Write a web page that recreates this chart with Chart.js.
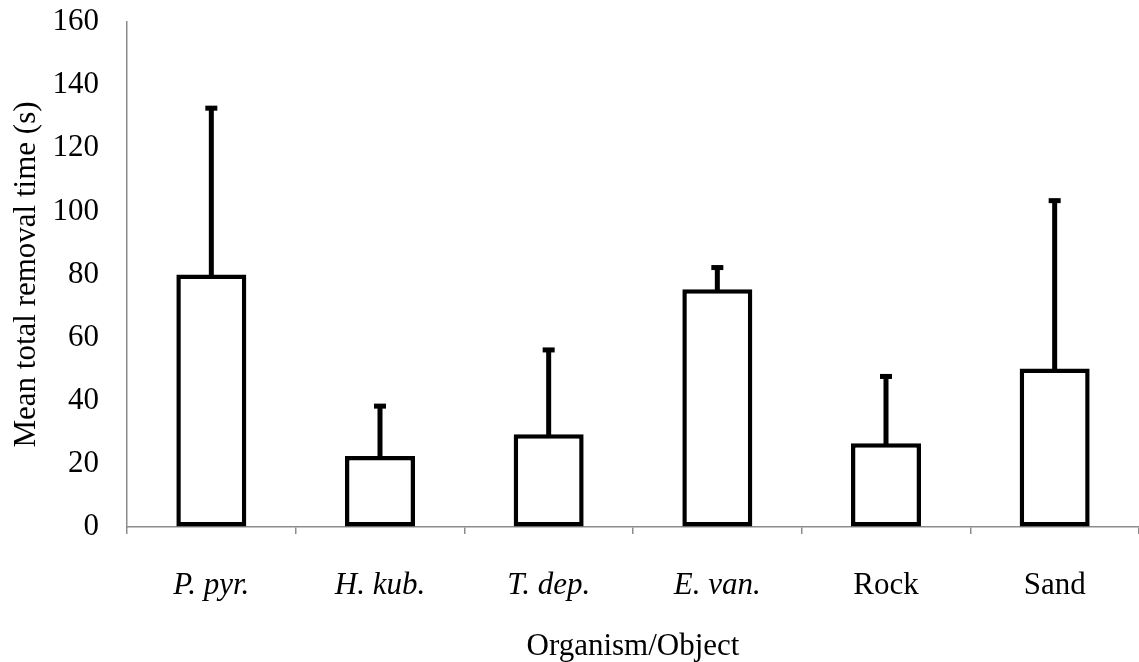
<!DOCTYPE html>
<html>
<head>
<meta charset="utf-8">
<script src="https://cdn.jsdelivr.net/npm/chart.js@4.4.1/dist/chart.umd.min.js"></script>
<style>
  html, body { margin: 0; padding: 0; background: #ffffff; }
  #wrap { width: 1139px; height: 662px; }
</style>
</head>
<body>
<div id="wrap"><canvas id="c" width="1139" height="662" style="width:1139px;height:662px;"></canvas></div>
<script>
const categories = ["P. pyr.", "H. kub.", "T. dep.", "E. van.", "Rock", "Sand"];
const italicCats = [true, true, true, true, false, false];
const meanTimes = [80, 22.5, 29.4, 75.3, 26.5, 50.2];
const errorUp = [52.7, 15.8, 26.7, 6.9, 21.2, 53.2];
const yTicks = [0, 20, 40, 60, 80, 100, 120, 140, 160];

const FONT = "'Liberation Serif', 'Times New Roman', serif";
const AXIS_GRAY = '#8c8c8c';

const errorBarPlugin = {
  id: 'errorBars',
  afterDatasetsDraw(chart) {
    const ctx = chart.ctx;
    const meta = chart.getDatasetMeta(0);
    const yScale = chart.scales.y;
    ctx.save();
    ctx.fillStyle = '#000';
    meta.data.forEach((bar, i) => {
      const x = bar.x;
      const yTop = bar.y;
      const yEnd = yScale.getPixelForValue(meanTimes[i] + errorUp[i]);
      ctx.fillRect(x - 2.5, yEnd, 5, yTop - yEnd + 2);
      ctx.fillRect(x - 6, yEnd - 2.5, 12, 5);
    });
    ctx.restore();
  }
};

new Chart(document.getElementById('c'), {
  type: 'bar',
  data: {
    labels: categories,
    datasets: [{
      data: meanTimes,
      backgroundColor: '#ffffff',
      borderColor: '#000000',
      borderWidth: 4.5,
      borderSkipped: false,
      barPercentage: 0.415,
      categoryPercentage: 1.0
    }]
  },
  options: {
    responsive: false,
    animation: false,
    devicePixelRatio: 1,
    layout: { padding: { top: 22, left: 0, right: 0, bottom: 0 } },
    plugins: { legend: { display: false }, tooltip: { enabled: false } },
    scales: {
      x: {
        offset: true,
        grid: { display: true, drawOnChartArea: false, drawTicks: true, tickLength: 7, color: AXIS_GRAY, lineWidth: 1.5, offset: true },
        border: { display: true, color: AXIS_GRAY, width: 1.5 },
        ticks: {
          color: '#000',
          padding: 33,
          maxRotation: 0,
          autoSkip: false,
          font: (ctx) => ({ family: FONT, size: 31, style: italicCats[ctx.index] ? 'italic' : 'normal', lineHeight: 1.2 })
        },
        title: {
          display: true,
          text: 'Organism/Object',
          color: '#000',
          font: { family: FONT, size: 31, lineHeight: 1.0 },
          padding: { top: 0, bottom: 0 }
        },
        afterFit(scale) { scale.height = 135; scale.paddingLeft = 0; scale.paddingRight = 0; }
      },
      y: {
        min: 0,
        max: 160,
        afterBuildTicks(scale) { scale.ticks = yTicks.map(v => ({ value: v })); },
        grid: { display: true, drawOnChartArea: false, drawTicks: false },
        border: { display: true, color: AXIS_GRAY, width: 1.5 },
        ticks: {
          color: '#000',
          padding: 28,
          font: { family: FONT, size: 31, lineHeight: 1.2 }
        },
        title: {
          display: true,
          text: 'Mean total removal time (s)',
          color: '#000',
          font: { family: FONT, size: 31, lineHeight: 1.2 },
          padding: { top: 8, bottom: 0 }
        },
        afterFit(scale) { scale.width = 127; scale.paddingTop = 0; scale.paddingBottom = 0; }
      }
    }
  },
  plugins: [errorBarPlugin]
});
</script>
</body>
</html>
